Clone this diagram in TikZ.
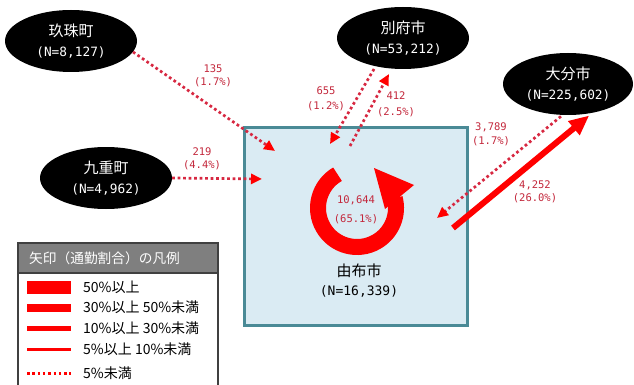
\documentclass[tikz,border=0pt]{standalone}
\usepackage{fontspec}
\setmainfont{Noto Sans CJK JP}
\newfontfamily\jpfont{Noto Sans CJK JP}
\newfontfamily\monofont{DejaVu Sans Mono}
\usetikzlibrary{arrows.meta,shapes.geometric}
\definecolor{boxfill}{RGB}{218,235,243}
\definecolor{boxline}{RGB}{74,138,150}
\definecolor{arrred}{RGB}{255,0,0}
\definecolor{dotred}{RGB}{215,40,65}
\definecolor{labred}{RGB}{195,40,60}
\definecolor{leggray}{RGB}{127,127,127}
\definecolor{legline}{RGB}{64,64,64}
\begin{document}
\begin{tikzpicture}[x=1pt,y=-1pt,
  town/.style={ellipse, fill=black, text=white, minimum width=132pt, minimum height=62pt,
    inner sep=0pt, align=center, font=\jpfont\fontsize{15}{19.5}\selectfont},
  num/.style={text=labred, align=center, inner sep=0pt, font=\monofont\fontsize{10.5}{13}\selectfont},
  dotarrow/.style={dotred, line width=2.7pt, dash pattern=on 2.7pt off 2.8pt,
    -{Triangle[length=11pt,width=10pt,color=arrred]}},
  legtext/.style={anchor=west, inner sep=0pt, font=\jpfont\fontsize{14}{15}\selectfont}]
\useasboundingbox (0,0) rectangle (634,385);

% Yufu box
\node[draw=boxline, line width=3pt, fill=boxfill, minimum width=223pt, minimum height=197pt,
  inner sep=0pt] (yufu) at (356,226.5) {};

% towns
\node[town] (kusu) at (71,41) {玖珠町\\{\monofont\fontsize{12.8}{19.5}\selectfont (N=8,127)}};
\node[town] (kokonoe) at (106,178) {九重町\\{\monofont\fontsize{12.8}{19.5}\selectfont (N=4,962)}};
\node[town] (beppu) at (403,38) {別府市\\{\monofont\fontsize{12.8}{19.5}\selectfont (N=53,212)}};
\node[town, minimum width=130pt] (oita) at (568,84) {大分市\\{\monofont\fontsize{12.8}{19.5}\selectfont (N=225,602)}};

% free ends
\coordinate (e1) at (275,151);
\coordinate (e2) at (262,179);
\coordinate (e3) at (330,144);
\coordinate (s4) at (350,146);
\coordinate (e5) at (437,218);
\coordinate (s6) at (453,228);
\coordinate (cc) at (357,208);

% connectors
\draw[dotarrow] (kusu.-10) -- (e1);
\draw[dotarrow] (kokonoe.east) -- (e2);
\draw[dotarrow, shorten <=3pt] (beppu.-134) -- (e3);
\draw[dotarrow, shorten >=6pt] (s4) -- (beppu.-110);
\draw[dotarrow, shorten <=2pt] (oita.-100) -- (e5);
\draw[arrred, line width=6pt, shorten >=4pt, -{Triangle[length=20pt,width=17pt]}] (s6) -- (oita.-50);

% circular arrow
\draw[arrred, line width=16pt] (cc) ++(240:39) arc[start angle=240, end angle=-15, radius=39];
\fill[arrred] (374,168) -- (414,185) -- (385,209) -- cycle;

% labels
\node[num] (l1) at (213,76) {135\\(1.7\%)};
\node[num] (l2) at (202,158.5) {219\\(4.4\%)};
\node[num] (l3) at (326,98.5) {655\\[2pt](1.2\%)};
\node[num] (l4) at (396,104) {412\\[3pt](2.5\%)};
\node[num] (l5) at (491,134) {3,789\\[1pt](1.7\%)};
\node[num] (l6) at (535,191.5) {4,252\\(26.0\%)};
\node[num] (l7) at (356,209.5) {10,644\\[6pt](65.1\%)};
\node[align=center, inner sep=0pt, font=\jpfont\fontsize{15}{19}\selectfont] (yufulab) at (359,281)
  {由布市\\{\monofont\fontsize{13}{19}\selectfont (N=16,339)}};

% legend
\node[fill=white, minimum width=200pt, minimum height=150pt, inner sep=0pt, anchor=north west] (legend) at (18,243) {};
\node[fill=leggray, minimum width=200pt, minimum height=30pt, inner sep=0pt, anchor=north west] (leghead) at (18,243) {};
\node[anchor=west, inner sep=0pt, text=white, font=\jpfont\fontsize{13.7}{15}\selectfont] (headtxt) at (29,258) {矢印（通勤割合）の凡例};
\draw[legline, line width=1.5pt] (18,394) -- (18,243) -- (218,243) -- (218,394);
\draw[legline, line width=1.2pt] (18,273) -- (218,273);

\draw[arrred, line width=13pt] (27,287) -- (71,287);
\draw[arrred, line width=8pt] (27,307.5) -- (71,307.5);
\draw[arrred, line width=5pt] (27,328) -- (71,328);
\draw[arrred, line width=3pt] (27,349) -- (71,349);
\draw[arrred, line width=2.5pt, dash pattern=on 2.5pt off 2.8pt] (27,373.5) -- (71,373.5);

\node[legtext] (t1) at (83,287) {50\%以上};
\node[legtext] (t2) at (83,307.5) {30\%以上 50\%未満};
\node[legtext] (t3) at (83,328) {10\%以上 30\%未満};
\node[legtext] (t4) at (83,349) {5\%以上 10\%未満};
\node[legtext] (t5) at (83,373.5) {5\%未満};
\end{tikzpicture}
\end{document}
